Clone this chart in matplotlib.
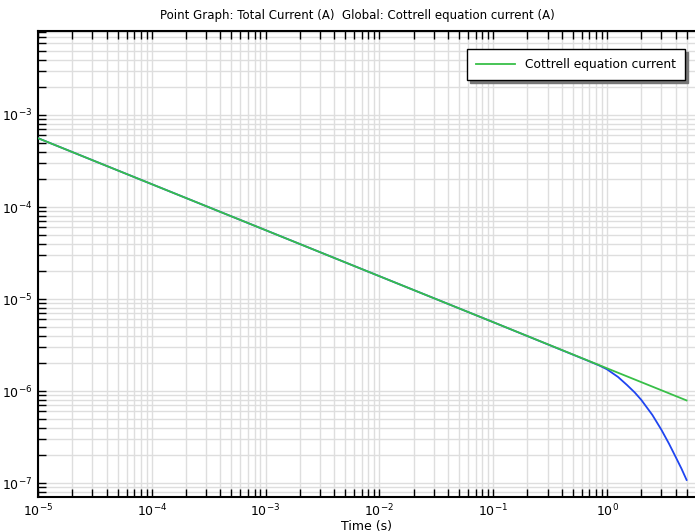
import matplotlib
matplotlib.use("Agg")
import matplotlib.pyplot as plt
from matplotlib.ticker import LogLocator, NullFormatter, FixedLocator, FixedFormatter

# Data
t_cottrell = [1e-5, 1e-4, 1e-3, 1e-2, 1e-1, 1.0, 5.0]
i_cottrell = [5.6e-4, 1.77e-4, 5.6e-5, 1.77e-5, 5.6e-6, 1.765e-6, 7.9e-7]

t_total = [1e-5, 1e-4, 1e-3, 1e-2, 1e-1, 0.3, 0.5, 0.7, 0.85, 1.0, 1.25, 1.5,
           1.75, 2.0, 2.5, 3.0, 3.5, 4.0, 4.5, 5.0]
i_total = [5.6e-4, 1.77e-4, 5.6e-5, 1.77e-5, 5.6e-6, 3.22e-6, 2.49e-6, 2.1e-6,
           1.9e-6, 1.72e-6, 1.42e-6, 1.16e-6, 9.65e-7, 8.0e-7, 5.5e-7, 3.8e-7,
           2.68e-7, 1.93e-7, 1.44e-7, 1.08e-7]

xticks = [1e-5, 1e-4, 1e-3, 1e-2, 1e-1, 1e0]
xticklabels = [r"$10^{-5}$", r"$10^{-4}$", r"$10^{-3}$", r"$10^{-2}$", r"$10^{-1}$", r"$10^{0}$"]
yticks = [1e-7, 1e-6, 1e-5, 1e-4, 1e-3]
yticklabels = [r"$10^{-7}$", r"$10^{-6}$", r"$10^{-5}$", r"$10^{-4}$", r"$10^{-3}$"]

title = "Point Graph: Total Current (A)  Global: Cottrell equation current (A)"
xlabel = "Time (s)"
legend_label = "Cottrell equation current"

plt.rcParams['font.family'] = ['DejaVu Sans']
plt.rcParams['mathtext.fontset'] = 'dejavusans'

W, H = 695, 532
fig = plt.figure(figsize=(W / 100, H / 100), dpi=100)
rect = [38 / W, 35 / H, (695.6 - 38) / W, (497 - 31) / H]

XLIM = (1e-5, 6.0)
YLIM = (10 ** -7.152, 10 ** -2.087)


def setup(a):
    a.set_xscale('log')
    a.set_yscale('log')
    a.set_xlim(*XLIM)
    a.set_ylim(*YLIM)
    a.xaxis.set_major_locator(FixedLocator(xticks))
    a.yaxis.set_major_locator(FixedLocator(yticks))
    a.xaxis.set_minor_locator(LogLocator(base=10, subs=range(2, 10), numticks=50))
    a.yaxis.set_minor_locator(LogLocator(base=10, subs=range(2, 10), numticks=50))
    a.xaxis.set_minor_formatter(NullFormatter())
    a.yaxis.set_minor_formatter(NullFormatter())


# background axes carrying only the grid
bg = fig.add_axes(rect, zorder=0)
setup(bg)
bg.grid(True, which='both', color='#dedede', lw=1.0)
bg.tick_params(which='both', length=0, labelbottom=False, labelleft=False)
for s in bg.spines.values():
    s.set_visible(False)

ax = fig.add_axes(rect, zorder=1)
ax.patch.set_alpha(0)
setup(ax)
ax.xaxis.set_major_formatter(FixedFormatter(xticklabels))
ax.yaxis.set_major_formatter(FixedFormatter(yticklabels))

ax.plot(t_total, i_total, color='#1f45f0', lw=1.3, zorder=3)
ax.plot(t_cottrell, i_cottrell, color='#38bf48', lw=1.3, zorder=4, label=legend_label)

ax.tick_params(which='both', direction='in', length=6, width=1.0,
               top=True, right=False, labelsize=9, color='black')
ax.tick_params(axis='x', pad=4)
ax.tick_params(axis='y', pad=4)

for s in ['left', 'bottom', 'top']:
    ax.spines[s].set_linewidth(1.5)
ax.spines['right'].set_visible(False)

ax.set_xlabel(xlabel, fontsize=9, labelpad=0.5)
fig.text(357.5 / W, 1 - 16 / H, title, ha='center', va='center', fontsize=8.5)

leg = ax.legend(loc='upper right', bbox_to_anchor=((685 - 38) / (695.6 - 38), (497 - 49) / (497 - 31)),
                fontsize=8.8, frameon=True, fancybox=False, shadow={'color': '#777777', 'alpha': 1.0},
                borderpad=0.75, handlelength=3.2, handletextpad=0.8, borderaxespad=0)
leg.get_frame().set_edgecolor('black')
leg.get_frame().set_linewidth(1.0)
leg.set_zorder(10)

fig.savefig('out.png', dpi=100)
